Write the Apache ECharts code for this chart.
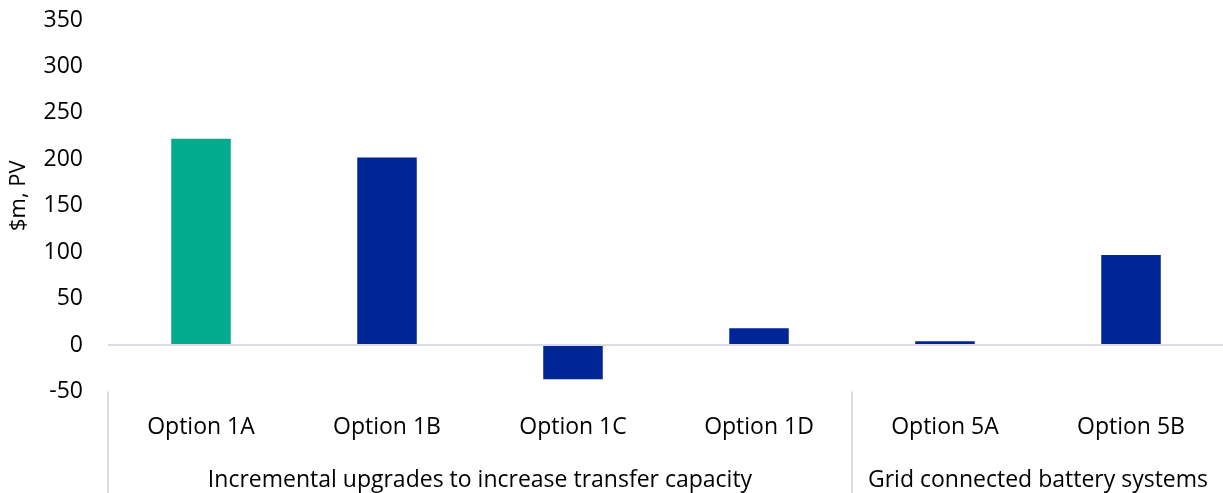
<!DOCTYPE html>
<html>
<head>
<meta charset="utf-8">
<title>Net market benefits by option</title>
<script src="https://cdn.jsdelivr.net/npm/echarts@6/dist/echarts.min.js"></script>
<style>
  html, body { margin: 0; padding: 0; background: #ffffff; }
  #chart { width: 1223px; height: 493px; }
</style>
</head>
<body>
<div id="chart"></div>
<script>
// Options and their net benefit ($m, present value)
const categories = ['Option 1A', 'Option 1B', 'Option 1C', 'Option 1D', 'Option 5A', 'Option 5B'];
const values = [222, 202, -37, 18, 4, 97];
const preferredOption = 'Option 1A';

// Option groups: label and how many options each covers
const groupNames = ['Incremental upgrades to increase transfer capacity', 'Grid connected battery systems'];
const groupSizes = [4, 2];

// Value axis ticks
const yMin = -50;
const yMax = 350;
const yStep = 50;

const FONT = 'Open Sans';
const TEXT = '#000000';
const RULE = '#d9dde3';
const PREFERRED = '#00ab8e';
const OTHER = '#002596';

// Boundary axis: one slot per category edge, group names sit at each group's centre,
// separator ticks at each group's edges.
const boundaryLabels = new Array(categories.length + 1).fill('');
const separatorIdx = new Set([0]);
let start = 0;
groupNames.forEach((name, g) => {
  const size = groupSizes[g];
  if (size % 2 === 0) {
    boundaryLabels[start + size / 2] = name;
  }
  start += size;
  separatorIdx.add(start);
});

const chart = echarts.init(document.getElementById('chart'), null, { renderer: 'canvas' });

chart.setOption({
  animation: false,
  grid: {
    left: 108, top: 20, width: 1116, height: 371.4,
    containLabel: false,
    outerBoundsMode: 'none'
  },
  xAxis: [
    {
      type: 'category',
      data: categories,
      position: 'bottom',
      axisLine: { show: false },
      axisTick: { show: false },
      axisLabel: {
        interval: 0,
        margin: 25,
        fontFamily: FONT,
        fontSize: 23,
        color: TEXT
      }
    },
    {
      type: 'category',
      data: boundaryLabels,
      position: 'bottom',
      boundaryGap: false,
      axisLine: { show: false },
      axisTick: {
        show: true,
        length: 105,
        interval: (index) => separatorIdx.has(index),
        lineStyle: { color: RULE, width: 2 }
      },
      axisLabel: {
        interval: 0,
        margin: 78,
        fontFamily: FONT,
        fontSize: 23,
        color: TEXT
      }
    }
  ],
  yAxis: {
    type: 'value',
    min: yMin,
    max: yMax,
    interval: yStep,
    name: '$m, PV',
    nameLocation: 'middle',
    nameGap: 78,
    nameTextStyle: { fontFamily: FONT, fontSize: 22, color: TEXT, padding: [0, 0, 0, 20] },
    axisLine: { show: false },
    axisTick: { show: false },
    splitLine: { show: false },
    axisLabel: { margin: 25, fontFamily: FONT, fontSize: 23, color: TEXT }
  },
  series: [
    {
      type: 'bar',
      xAxisIndex: 0,
      barWidth: '32%',
      data: values.map((v, i) => ({
        value: v,
        itemStyle: { color: categories[i] === preferredOption ? PREFERRED : OTHER }
      })),
      markLine: {
        silent: true,
        symbol: 'none',
        label: { show: false },
        lineStyle: { color: RULE, width: 2, type: 'solid' },
        data: [{ yAxis: 0 }]
      }
    }
  ]
});
</script>
</body>
</html>
